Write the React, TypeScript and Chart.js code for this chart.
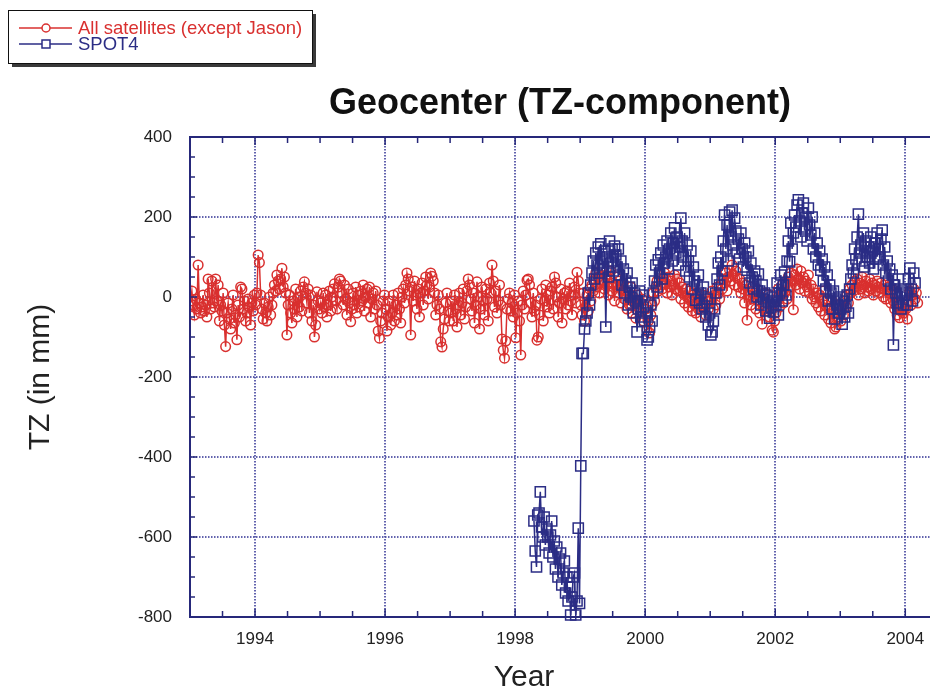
import React, { useEffect, useRef } from "react";
import { Chart, registerables } from "chart.js";

Chart.register(...registerables);

// ---------- labels ----------
const titleText = "Geocenter (TZ-component)";
const xAxisTitle = "Year";
const yAxisTitle = "TZ (in mm)";
const legendLabels = ["All satellites (except Jason)", "SPOT4"];
const xTickLabels = ["1994", "1996", "1998", "2000", "2002", "2004"];
const yTickLabels = ["-800", "-600", "-400", "-200", "0", "200", "400"];

// ---------- series: All satellites (except Jason), values in mm, one array per year ----------
const red1993 = [-10, 15, -20, -45, -5, -30, 80, -15, -40, -25, 5, -35, -20, -50, 45, 10, -30, 40, -15, -25, 45, -10, 30, -60, -20, -35, 10, -70, -124, -40, -15, -55, -80, -30, 5, -65, -45, -107, -20, -50, 25, 20, -30, -10, -60, -40, -5, -25, -70, -15, -35, 5];
const red1994 = [-20, 10, 105, 86, 5, -30, -55, -15, -40, -60, -25, 0, -45, -20, 10, 30, 15, 55, 40, 20, 45, 72, 25, 50, 10, -95, -20, 5, -40, -65, -10, -30, 20, -50, 0, -25, 15, -35, 25, 38, 10, -15, 20, -40, 5, -60, -20, -100, -70, 13, -10, -30];
const red1995 = [-15, -40, 10, -25, 5, -50, -20, 15, -35, 0, 20, 33, -10, -30, 25, 45, 40, 10, -20, 30, -5, -45, 20, -15, -62, -30, 10, -20, 25, -40, 5, -25, 15, -10, 30, -35, 0, 20, -15, 25, -50, -5, 10, -30, 15, -20, -85, -103, -60, -40, -10, 5];
const red1996 = [-30, -85, -50, -10, -70, -40, 5, -60, -20, -45, 10, -30, -65, 0, 20, -15, 30, 60, 45, 15, -95, 25, -10, 40, 5, -30, 20, -50, 10, 35, -20, 15, 50, 30, -5, 25, 60, 52, 40, 10, -45, -20, 5, -30, -112, -125, -80, -55, -15, 10, -35, -60];
const red1997 = [-40, -10, -60, 5, -30, -75, -20, 10, -45, -15, 20, -55, -25, 15, 45, 30, -5, -35, 10, -65, -20, 38, 0, -80, -30, 25, -10, -45, 20, -5, -60, 35, 10, 80, 40, -25, 15, -40, -10, 30, -20, -105, -133, -153, -110, -30, -5, 10, -35, -15, -50, 5];
const red1998 = [-102, -40, -10, -60, -145, -20, 15, -30, 5, 42, 45, 30, -15, -50, 10, -35, -20, -108, -100, -45, -5, 20, -60, -10, 30, -25, 5, -40, 15, 25, -30, 50, 35, 0, -50, -15, 20, -65, -5, 10, -30, 15, -20, 35, -10, -45, 5, 25, -15, 62, 40, 10];
const red1999 = [-20, -45, 10, -60, -25, 5, -35, 20, -10, 30, 15, 45, 60, 25, 50, 10, 35, 72, 40, 20, 55, 30, 5, 45, 65, 15, 35, -10, 50, 25, 10, 40, -15, 20, 35, -5, 15, -30, 10, -20, 25, -40, 0, -15, -53, 5, -25, -10, -35, -5, -60, -30];
const red2000 = [-30, -83, -60, -90, -45, -20, 10, -10, 25, 40, 15, 55, 30, 20, 45, 60, 35, 10, 50, 25, 40, 5, 30, 55, 20, 45, 15, 35, -5, 25, 10, -15, 20, 0, -25, 15, -10, -35, 5, -20, -40, 10, -30, -5, -50, -15, 5, -25, -45, -10, -30, 0];
const red2001 = [-10, 15, -30, 5, -20, 25, 10, -5, 30, 20, 45, 35, 60, 15, 50, 67, 40, 80, 55, 30, 65, 48, 25, 45, 10, 35, 20, -15, 30, -58, 5, 15, -20, 25, -5, 10, -30, 20, -10, -40, 0, -68, -25, 10, -15, -35, 5, -50, -20, -83, -88, -60];
const red2002 = [-40, -10, 20, -25, 5, 30, -15, 10, 35, -5, 50, 25, 60, 40, -32, 55, 30, 70, 45, 20, 65, 35, 50, 15, 40, 25, 55, 10, 30, -5, 20, 0, -15, 10, -25, 5, -35, -10, 15, -45, -20, -5, -55, -30, -65, -10, -40, -80, -75, -50, -20, -35];
const red2003 = [-60, -30, -45, -10, -25, 5, -15, 20, 10, 30, 15, 40, 25, 45, 5, 35, 20, 50, 30, 10, 40, 25, 15, 45, 20, 35, 5, 30, 15, 40, 25, 10, 35, 20, 0, 30, -5, 15, 25, 10, -15, 20, -10, -30, 5, -45, -20, -52, -35, -15, -40, -25];
const red2004 = [-30, -55, -10, 15, -20, 5, 20, -5, 10, -15];

// ---------- series: SPOT4, values in mm ----------
const spot1998 = [-560, -635, -675, -545, -540, -487, -575, -600, -550, -620, -580, -600, -640, -595, -560, -650, -610, -680, -625, -700, -655, -640, -720, -690, -660, -740, -700, -760, -725, -795, -750, -700, -690, -795, -760, -578, -766];
const spot1999 = [-422, -141, -141, -80, -60, -40, 10, -20, 30, 60, 90, 45, 110, 80, 125, 60, 133, 95, 70, 115, -75, 100, 50, 140, 85, 120, 65, 127, 105, 75, 120, 55, 90, 30, 70, 10, 40, 60, -20, 25, 0, 35, -40, 10, -10, -87, -30, 15, -50, 5, -25, -60];
const spot2000 = [-40, -107, -100, -75, -20, -60, 10, 40, 80, 25, 93, 60, 110, 45, 130, 85, 100, 140, 70, 120, 160, 90, 135, 173, 110, 150, 80, 125, 197, 140, 100, 160, 65, 130, 90, 50, 115, 20, 75, 40, -8, 30, 55, -15, 10, -30, 25, -23, -50, -5, -70, -40];
const spot2001 = [-95, -87, -60, -30, 10, 45, 85, 30, 100, 65, 140, 205, 120, 180, 90, 212, 150, 217, 130, 197, 165, 110, 145, 95, 160, 120, 75, 135, 100, 67, 115, 35, 85, 50, 20, 65, 40, 0, 57, 15, -20, 30, -5, 10, -35, 5, -15, -53, -25, 0, -37, -10];
const spot2002 = [-20, 35, -45, 10, 55, -10, 30, 62, 5, 90, 140, 88, 185, 120, 160, 205, 175, 230, 243, 190, 150, 210, 235, 170, 200, 140, 222, 180, 155, 200, 120, 160, 100, 135, 80, 115, 67, 95, 40, 75, 20, 55, -10, 30, 10, -30, 15, -55, -5, -20, -40, 0];
const spot2003 = [-30, -68, -10, -50, -23, 5, -40, 20, 45, 80, 60, 120, 95, 150, 207, 110, 130, 90, 160, 75, 140, 100, 125, 85, 150, 115, 70, 135, 95, 160, 120, 100, 145, 167, 80, 125, 60, 90, 40, 70, 20, 55, -120, 30, 10, -15, 45, 0, -30, 15, -20, 5];
const spot2004 = [10, -20, 45, 72, 20, -10, 60, 35];

// [start year, end year, weekly values]
const redSegments: [number, number, number[]][] = [
  [1993.0, 1994.0, red1993],
  [1994.0, 1995.0, red1994],
  [1995.0, 1996.0, red1995],
  [1996.0, 1997.0, red1996],
  [1997.0, 1998.0, red1997],
  [1998.0, 1999.0, red1998],
  [1999.0, 2000.0, red1999],
  [2000.0, 2001.0, red2000],
  [2001.0, 2002.0, red2001],
  [2002.0, 2003.0, red2002],
  [2003.0, 2004.0, red2003],
  [2004.0, 2004.2, red2004],
];
const spotSegments: [number, number, number[]][] = [
  [1998.28, 1999.0, spot1998],
  [1999.0, 2000.0, spot1999],
  [2000.0, 2001.0, spot2000],
  [2001.0, 2002.0, spot2001],
  [2002.0, 2003.0, spot2002],
  [2003.0, 2004.0, spot2003],
  [2004.0, 2004.16, spot2004],
];

// ---------- styling ----------
const FONT = "'Liberation Sans', Arial, Helvetica, sans-serif";
const RED = "#d9302f";
const BLUE = "#2b2d85";
const NAVY = "#26287a";
const GRID = "rgba(70, 72, 160, 0.85)";
const TEXT = "#222222";
const X_MIN = 1993.0;
const X_MAX = 2004.38;
const Y_MIN = -800;
const Y_MAX = 400;

function buildPoints(segs: [number, number, number[]][]) {
  const pts: { x: number; y: number }[] = [];
  segs.forEach(([start, end, vals]) => {
    const step = (end - start) / vals.length;
    vals.forEach((v, i) => pts.push({ x: start + (i + 0.5) * step, y: v }));
  });
  return pts;
}

function xTickValues() {
  const out: number[] = [];
  for (let v = X_MIN; v <= X_MAX + 1e-9; v += 0.5) out.push(Math.round(v * 10) / 10);
  return out;
}
function yTickValues() {
  const out: number[] = [];
  for (let v = Y_MIN; v <= Y_MAX; v += 50) out.push(v);
  return out;
}

const decorPlugin = {
  id: "decor",
  afterDatasetsDraw(chart: any) {
    const { ctx, chartArea, scales } = chart;
    const { left, right, top, bottom } = chartArea;
    ctx.save();
    ctx.strokeStyle = NAVY;
    ctx.lineWidth = 1.5;
    xTickValues().forEach((v) => {
      const px = scales.x.getPixelForValue(v);
      const major = xTickLabels.includes(String(v));
      const len = major ? 8 : 6;
      ctx.beginPath();
      ctx.moveTo(px, bottom);
      ctx.lineTo(px, bottom - len);
      ctx.moveTo(px, top);
      ctx.lineTo(px, top + len);
      ctx.stroke();
    });
    yTickValues().forEach((v) => {
      const py = scales.y.getPixelForValue(v);
      const major = yTickLabels.includes(String(v));
      const len = major ? 7 : 5;
      ctx.beginPath();
      ctx.moveTo(left, py);
      ctx.lineTo(left + len, py);
      ctx.stroke();
    });
    // frame: left, top, bottom (right edge falls at the picture border)
    ctx.lineWidth = 2;
    ctx.beginPath();
    ctx.moveTo(right, top);
    ctx.lineTo(left, top);
    ctx.lineTo(left, bottom);
    ctx.lineTo(right, bottom);
    ctx.stroke();
    ctx.restore();
  },
  afterDraw(chart: any) {
    const { ctx, chartArea } = chart;
    ctx.save();
    const bx = 8, by = 10, bw = 304, bh = 53;
    ctx.fillStyle = "#3a3a3a";
    ctx.fillRect(bx + 4, by + 4, bw, bh);
    ctx.fillStyle = "#ffffff";
    ctx.fillRect(bx, by, bw, bh);
    ctx.strokeStyle = "#111111";
    ctx.lineWidth = 1;
    ctx.strokeRect(bx + 0.5, by + 0.5, bw, bh);
    const rows = [
      { y: 28, color: RED, label: legendLabels[0], style: "circle" },
      { y: 44, color: BLUE, label: legendLabels[1], style: "rect" },
    ];
    rows.forEach((r) => {
      ctx.strokeStyle = r.color;
      ctx.lineWidth = 1.5;
      ctx.beginPath();
      ctx.moveTo(19, r.y);
      ctx.lineTo(72, r.y);
      ctx.stroke();
      ctx.fillStyle = "#ffffff";
      ctx.beginPath();
      if (r.style === "circle") {
        ctx.arc(46, r.y, 4, 0, Math.PI * 2);
      } else {
        ctx.rect(42, r.y - 4, 8, 8);
      }
      ctx.fill();
      ctx.stroke();
      ctx.fillStyle = r.color;
      ctx.font = `18.5px ${FONT}`;
      ctx.textAlign = "left";
      ctx.textBaseline = "middle";
      ctx.fillText(r.label, 78, r.y + 1);
    });
    ctx.fillStyle = TEXT;
    ctx.font = `30px ${FONT}`;
    ctx.textAlign = "center";
    ctx.textBaseline = "alphabetic";
    ctx.fillText(xAxisTitle, chartArea.left + 334, 686);
    ctx.restore();
  },
};

export default function App() {
  const canvasRef = useRef<HTMLCanvasElement | null>(null);

  useEffect(() => {
    const canvas = canvasRef.current;
    if (!canvas) return;
    const chart = new Chart(canvas, {
      type: "line",
      data: {
        datasets: [
          {
            label: legendLabels[0],
            data: buildPoints(redSegments),
            borderColor: RED,
            backgroundColor: "rgba(0,0,0,0)",
            borderWidth: 1.5,
            pointStyle: "circle",
            pointRadius: 4.8,
            pointBorderWidth: 1.5,
            pointBorderColor: RED,
            pointBackgroundColor: "rgba(0,0,0,0)",
            tension: 0,
            order: 2,
          },
          {
            label: legendLabels[1],
            data: buildPoints(spotSegments),
            borderColor: BLUE,
            backgroundColor: "rgba(0,0,0,0)",
            borderWidth: 1.5,
            pointStyle: "rect",
            pointRadius: 7.2,
            pointBorderWidth: 1.5,
            pointBorderColor: BLUE,
            pointBackgroundColor: "rgba(0,0,0,0)",
            tension: 0,
            order: 1,
            clip: false,
          },
        ],
      },
      options: {
        animation: false,
        responsive: false,
        devicePixelRatio: 1,
        events: [],
        layout: { padding: 0, autoPadding: false },
        plugins: {
          legend: { display: false },
          tooltip: { enabled: false },
          title: {
            display: true,
            text: titleText,
            fullSize: false,
            color: "#111111",
            font: { family: FONT, size: 36, weight: "bold", lineHeight: 1.2 },
            padding: { top: 82, bottom: 11.8 },
          },
        },
        scales: {
          x: {
            type: "linear",
            min: X_MIN,
            max: X_MAX,
            afterBuildTicks: (s: any) => {
              s.ticks = xTickValues().map((v) => ({ value: v }));
            },
            afterFit: (s: any) => {
              s.height = 74;
              s.paddingLeft = 0;
              s.paddingRight = 0;
            },
            ticks: {
              autoSkip: false,
              maxRotation: 0,
              padding: 12,
              color: TEXT,
              font: { family: FONT, size: 17 },
              callback: (v: any) => (xTickLabels.includes(String(v)) ? String(v) : ""),
            },
            grid: {
              drawTicks: false,
              lineWidth: 2,
              color: (c: any) =>
                c.tick && xTickLabels.includes(String(c.tick.value)) ? GRID : "rgba(0,0,0,0)",
            },
            border: { display: false, dash: [1.5, 1.5] },
          },
          y: {
            type: "linear",
            min: Y_MIN,
            max: Y_MAX,
            afterBuildTicks: (s: any) => {
              s.ticks = yTickValues().map((v) => ({ value: v }));
            },
            afterFit: (s: any) => {
              s.width = 190;
              s.paddingTop = 0;
              s.paddingBottom = 0;
            },
            ticks: {
              autoSkip: false,
              padding: 18,
              color: TEXT,
              font: { family: FONT, size: 17 },
              callback: (v: any) => (yTickLabels.includes(String(v)) ? String(v) : ""),
            },
            grid: {
              drawTicks: false,
              lineWidth: 2,
              color: (c: any) =>
                c.tick && yTickLabels.includes(String(c.tick.value)) && c.tick.value !== Y_MIN && c.tick.value !== Y_MAX
                  ? GRID
                  : "rgba(0,0,0,0)",
            },
            border: { display: false, dash: [1.5, 1.5] },
            title: {
              display: true,
              text: yAxisTitle,
              color: TEXT,
              font: { family: FONT, size: 30, lineHeight: 1.2 },
              padding: { top: 23, bottom: 0 },
            },
          },
        },
      },
      plugins: [decorPlugin],
    } as any);
    return () => chart.destroy();
  }, []);

  return (
    <div style={{ position: "absolute", left: 0, top: 0, width: 930, height: 691, background: "#ffffff" }}>
      <canvas ref={canvasRef} width={930} height={691} style={{ display: "block", width: 930, height: 691 }} />
    </div>
  );
}
